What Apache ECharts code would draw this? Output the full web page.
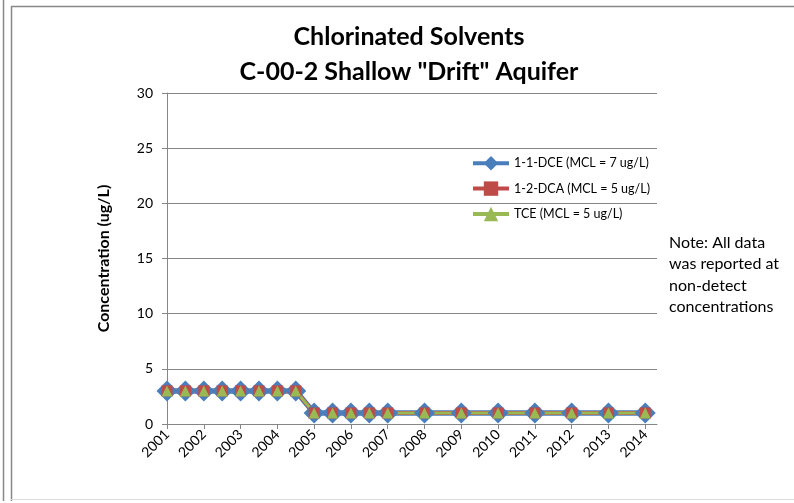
<!DOCTYPE html>
<html><head><meta charset="utf-8">
<script src="https://cdn.jsdelivr.net/npm/echarts@6/dist/echarts.min.js"></script>
<style>html,body{margin:0;padding:0;background:#fff;}#c{width:794px;height:503px;}</style>
</head><body><div id="c"></div>
<script>
// sample dates (decimal years)
const sampleYears = [2001, 2001.5, 2002, 2002.5, 2003, 2003.5, 2004, 2004.5, 2005, 2005.5, 2006, 2006.5, 2007, 2008, 2009, 2010, 2011, 2012, 2013, 2014];
const dce = [3, 3, 3, 3, 3, 3, 3, 3, 1, 1, 1, 1, 1, 1, 1, 1, 1, 1, 1, 1];
const dca = [3, 3, 3, 3, 3, 3, 3, 3, 1, 1, 1, 1, 1, 1, 1, 1, 1, 1, 1, 1];
const tce = [3, 3, 3, 3, 3, 3, 3, 3, 1, 1, 1, 1, 1, 1, 1, 1, 1, 1, 1, 1];
const seriesNames = ['1-1-DCE (MCL = 7 ug/L)', '1-2-DCA (MCL = 5 ug/L)', 'TCE (MCL = 5 ug/L)'];
const titleLines = ['Chlorinated Solvents', 'C-00-2 Shallow "Drift" Aquifer'];
const noteLines = ['Note: All data', 'was reported at', 'non-detect', 'concentrations'];

const pair = (v) => sampleYears.map((x, i) => [x, v[i]]);
const FONT = 'Lato';
const chart = echarts.init(document.getElementById('c'));
chart.setOption({
  animation: false,
  backgroundColor: '#fff',
  title: {
    text: titleLines.join('\n'),
    left: 404, top: 14, textAlign: 'center',
    textStyle: { fontFamily: FONT, fontWeight: 'bold', fontSize: 25, lineHeight: 35, color: '#000' }
  },
  grid: { left: 167, right: 137, top: 93, bottom: 79, containLabel: false },
  legend: {
    orient: 'vertical', left: 466, top: 151, itemGap: 11, itemWidth: 36, itemHeight: 18,
    textStyle: { fontFamily: FONT, fontSize: 12.5, color: '#000' },
    lineStyle: { width: 4 },
    data: seriesNames
  },
  xAxis: {
    type: 'value', min: 2001, max: 2014.32, interval: 1,
    axisLine: { show: true, lineStyle: { color: '#868686', width: 1 } },
    axisTick: { show: true, length: 5, lineStyle: { color: '#868686' } },
    splitLine: { show: false },
    axisLabel: {
      rotate: 45, margin: 8, fontFamily: FONT, fontSize: 14, color: '#000',
      showMaxLabel: false,
      formatter: (v) => (Number.isInteger(v) ? String(v) : '')
    }
  },
  yAxis: {
    type: 'value', min: 0, max: 30, interval: 5,
    name: 'Concentration (ug/L)', nameLocation: 'middle', nameGap: 55,
    nameTextStyle: { fontFamily: FONT, fontWeight: 'bold', fontSize: 16, color: '#000' },
    axisLine: { show: true, lineStyle: { color: '#868686', width: 1 } },
    axisTick: { show: true, length: 5, lineStyle: { color: '#868686' } },
    splitLine: { show: true, lineStyle: { color: '#868686', width: 1 } },
    axisLabel: { fontFamily: FONT, fontSize: 14, color: '#000', margin: 14 }
  },
  series: [
    { name: seriesNames[0], type: 'line', data: pair(dce), symbol: 'diamond', symbolSize: 21,
      lineStyle: { color: '#4A7EBB', width: 5.5 }, itemStyle: { color: '#4A7EBB' } },
    { name: seriesNames[1], type: 'line', data: pair(dca), symbol: 'rect', symbolSize: 11,
      lineStyle: { color: '#BE4B48', width: 4 }, itemStyle: { color: '#BE4B48' } },
    { name: seriesNames[2], type: 'line', data: pair(tce), symbol: 'triangle', symbolSize: 11,
      lineStyle: { color: '#98B954', width: 3 }, itemStyle: { color: '#98B954' } }
  ],
  graphic: [
    { type: 'line', shape: { x1: 3.5, y1: 0, x2: 3.5, y2: 501 }, style: { stroke: '#888', lineWidth: 1.5 } },
    { type: 'line', shape: { x1: 11.5, y1: 6, x2: 11.5, y2: 501 }, style: { stroke: '#888', lineWidth: 1.5 } },
    { type: 'line', shape: { x1: 11, y1: 6.5, x2: 794, y2: 6.5 }, style: { stroke: '#888', lineWidth: 1.5 } },
    { type: 'line', shape: { x1: 11, y1: 499.5, x2: 794, y2: 499.5 }, style: { stroke: '#ddd', lineWidth: 1 } },
    { type: 'text', left: 669, top: 232,
      style: { text: noteLines.join('\n'), fontFamily: FONT, fontSize: 16, lineHeight: 21.5, fill: '#000' } }
  ]
});
</script></body></html>
